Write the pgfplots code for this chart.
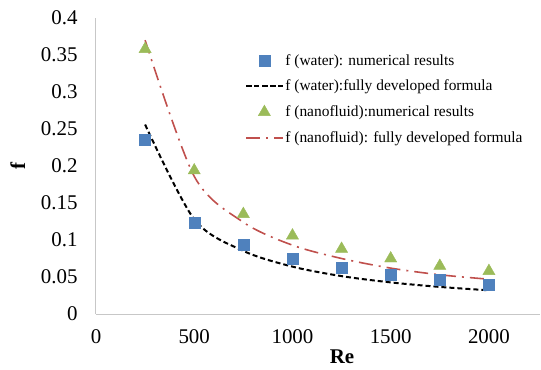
\documentclass[border=0pt]{standalone}
\usepackage{fontspec}
\setmainfont{Liberation Serif}
\usepackage{pgfplots}
\pgfplotsset{compat=1.18}
\definecolor{wblue}{HTML}{4F81BD}
\definecolor{ngreen}{HTML}{9BBB59}
\definecolor{nred}{HTML}{C0504D}
\begin{document}
\begin{tikzpicture}
\useasboundingbox (-96bp,-56bp) rectangle (445bp,314bp);
\begin{axis}[
  at={(0,0)}, anchor=south west,
  scale only axis, width=444bp, height=296bp,
  xmin=0, xmax=2260, ymin=0, ymax=0.4,
  axis x line=bottom, axis y line=left,
  axis line style={-, draw=black!22, line width=1bp},
  xtick={0,500,1000,1500,2000},
  ytick={0,0.05,0.1,0.15,0.2,0.25,0.3,0.35,0.4},
  yticklabels={0,0.05,0.1,0.15,0.2,0.25,0.3,0.35,0.4},
  major tick length=0pt,
  /pgf/number format/1000 sep={},
  /pgf/number format/assume math mode=true,
  tick label style={font=\fontsize{21}{24}\selectfont},
  xticklabel style={yshift=-12bp},
  yticklabel style={xshift=-15bp},
  xlabel={\textbf{Re}}, ylabel={\textbf{f}},
  label style={font=\fontsize{21}{24}\selectfont},
  xlabel style={at={(axis description cs:0.554,-0.145)}, anchor=center},
  ylabel style={at={(axis description cs:-0.176,0.5)}, anchor=center},
  legend style={at={(axis description cs:0.336,0.885)}, anchor=north west,
    draw=none, fill=none, font=\fontsize{15.5}{17}\selectfont,
    row sep=9.5bp, inner sep=0pt},
  legend cell align=left,
  legend image code/.code={\draw[mark repeat=2,mark phase=2,#1] plot coordinates {(0bp,0bp) (18bp,0bp) (36bp,0bp)};},
]
\addplot[only marks, mark=square*, mark size=5.5bp, color=wblue]
  coordinates {(250,0.235)(500,0.123)(750,0.093)(1000,0.075)(1250,0.063)(1500,0.053)(1750,0.047)(2000,0.040)};
\addlegendentry{f (water): numerical results}
\addplot[black, line width=2bp, dash pattern=on 5bp off 3bp, smooth]
  coordinates {(250,0.256)(500,0.128)(750,0.0853)(1000,0.064)(1250,0.0512)(1500,0.0427)(1750,0.0366)(2000,0.032)};
\addlegendentry{f (water):fully developed formula}
\addplot[only marks, mark=triangle*, mark size=7bp, color=ngreen]
  coordinates {(250,0.358)(500,0.194)(750,0.135)(1000,0.106)(1250,0.088)(1500,0.075)(1750,0.065)(2000,0.058)};
\addlegendentry{f (nanofluid):numerical results}
\addplot[nred, line width=1.6bp, dash pattern=on 14bp off 6bp on 2bp off 6bp, smooth]
  coordinates {(250,0.370)(500,0.186)(750,0.124)(1000,0.093)(1250,0.075)(1500,0.062)(1750,0.053)(2000,0.047)};
\addlegendentry{f (nanofluid): fully developed formula}
\end{axis}
\end{tikzpicture}
\end{document}
